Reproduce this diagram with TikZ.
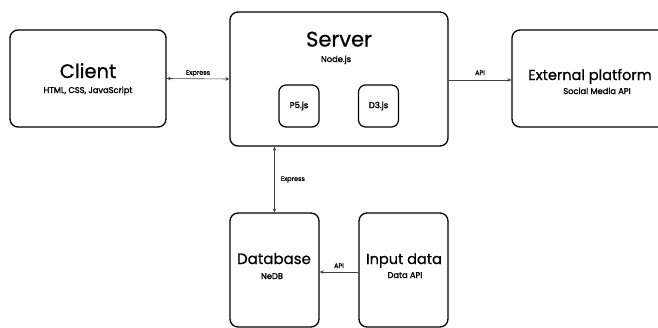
\documentclass[tikz,border=0pt]{standalone}
\usepackage{fontspec}
\setmainfont{Poppins}
\newfontfamily\titlefont{Poppins}[FakeBold=0.8]
\newfontfamily\subfont{Poppins}[FakeBold=1.8]
\newfontfamily\labelfont{Poppins}[FakeBold=0.8]
\usetikzlibrary{positioning,arrows.meta}

\begin{document}
\begin{tikzpicture}
[x=1pt, y=-1pt,
box-a/.style={draw, rounded corners=8pt, line width=1.3pt, inner sep=0pt},
box-b/.style={draw, rounded corners=7pt, line width=1.2pt, inner sep=0pt, minimum width=40pt, minimum height=42pt, font=\subfont\fontsize{8.5}{10}\selectfont},
title-a/.style={anchor=base, inner sep=0pt, font=\titlefont\fontsize{19.5}{22}\selectfont},
title-b/.style={anchor=base, inner sep=0pt, font=\titlefont\fontsize{14.5}{16}\selectfont},
text-a/.style={anchor=base, inner sep=0pt, font=\subfont\fontsize{8.3}{10}\selectfont},
label-a/.style={anchor=base, inner sep=0pt, font=\labelfont\fontsize{6.5}{7}\selectfont},
link-a/.style={line width=0.6pt, draw=black!75, {Stealth[length=4pt,width=3.5pt]}-{Stealth[length=4pt,width=3.5pt]}},
link-b/.style={line width=0.6pt, draw=black!75, -{Stealth[length=4pt,width=3.5pt]}}
]

\clip (0,0) rectangle (658,327);

\node (client)   [box-a, minimum width=156pt, minimum height=97pt]  at (88,78.5)  {};
\node (server)   [box-a, minimum width=218pt, minimum height=134pt] at (339,79)   {};
\node (external) [box-a, minimum width=156pt, minimum height=97pt]  at (590,78.5) {};
\node (database) [box-a, minimum width=89pt, minimum height=114pt]  at (274.5,270) {};
\node (input)    [box-a, minimum width=89pt, minimum height=114pt]  at (403.5,270) {};
\node (p5)       [box-b] at (299,106)   {P5.js};
\node (d3)       [box-b] at (378.5,106) {D3.js};

\node (client-title)   [title-a] at (88,78)    {Client};
\node (client-sub)     [text-a]  at (88,93)    {HTML, CSS, JavaScript};
\node (server-title)   [title-a, font=\titlefont\fontsize{21}{24}\selectfont] at (339,46.5) {Server};
\node (server-sub)     [text-a]  at (336,62)   {Node.js};
\node (external-title) [title-b] at (590,80)   {External platform};
\node (external-sub)   [text-a]  at (597,94)   {Social Media API};
\node (database-title) [title-b, font=\titlefont\fontsize{15}{18}\selectfont] at (274,264) {Database};
\node (database-sub)   [text-a]  at (272,279)  {NeDB};
\node (input-title)    [title-b, font=\titlefont\fontsize{14.5}{18}\selectfont] at (404,264) {Input data};
\node (input-sub)      [text-a]  at (405,278)  {Data API};

\draw [link-a] (client.east) -- (server.west)
      node (express-1) [label-a, pos=0.5, yshift=4pt] {Express};
\draw [link-b] (server.east |- 0,80) -- (external.west |- 0,80)
      node (api-1) [label-a, pos=0.5, yshift=5pt] {API};
\draw [link-a] (database.north) -- (database.north |- server.south)
      node (express-2) [label-a, pos=0.5, right=6pt] {Express};
\draw [link-b] (input.west |- 0,272) -- (database.east |- 0,272)
      node (api-2) [label-a, pos=0.5, yshift=4pt] {API};

\end{tikzpicture}
\end{document}
